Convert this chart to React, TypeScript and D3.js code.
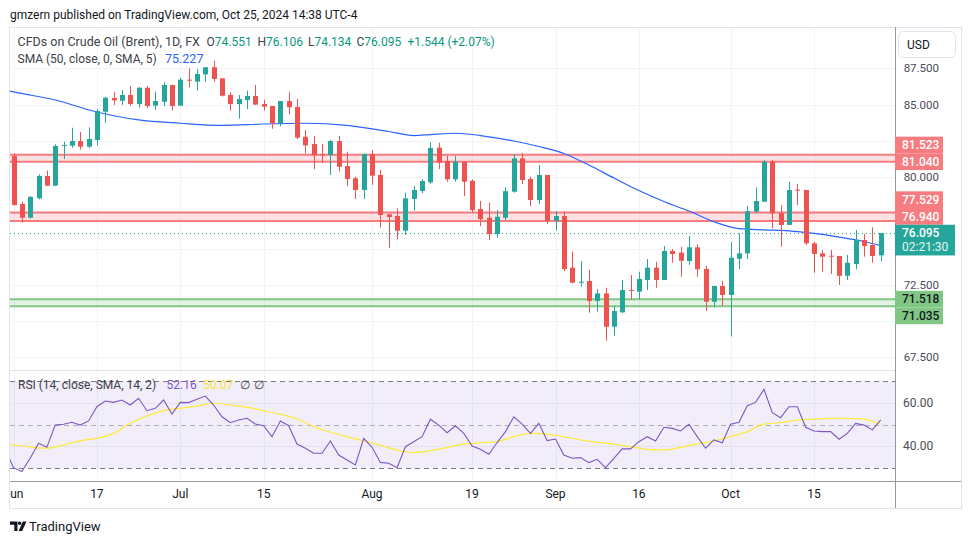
import React from "react";
import * as d3 from "d3";

// ---------- DATA ----------
const headerText = "gmzern published on TradingView.com, Oct 25, 2024 14:38 UTC-4";
const symbolTitle = "CFDs on Crude Oil (Brent), 1D, FX";
const smaTitle = "SMA (50, close, 0, SMA, 5)";
const rsiTitle = "RSI (14, close, SMA, 14, 2)";

// daily candles, Jun 3 2024 .. Oct 25 2024 (index 0..104)
const opens = [
  81.43, 78.11, 77.16, 78.5, 80.05, 79.38, 82.15, 82.15, 82.47, 82.08,
  82.54, 84.5, 85.45, 85.26, 85.66, 85.03, 86.16, 84.92, 85.19, 86.35,
  84.92, 86.72, 86.58, 87.09, 87.58, 86.81, 85.66, 85.03, 85.31, 85.59,
  85.03, 84.9, 83.7, 85.24, 84.83, 82.77, 82.26, 81.57, 81.5, 82.47,
  80.74, 79.89, 79.08, 81.57, 80.12, 77.4, 77.28, 76.26, 78.46, 79.01,
  79.61, 82.01, 81.09, 79.82, 81.04, 79.72, 77.76, 77.16, 76.03, 77.16,
  78.96, 81.27, 79.84, 78.39, 80.12, 76.95, 77.28, 73.7, 72.71, 72.78,
  71.39, 71.92, 69.61, 70.61, 72.16, 72.04, 72.85, 73.7, 72.85, 74.86,
  74.74, 74.16, 75.11, 73.61, 71.34, 72.43, 71.81, 74.32, 74.69, 77.58,
  78.27, 81.04, 77.47, 76.66, 79.1, 79.08, 75.39, 74.69, 74.53, 74.51,
  73.14, 73.95, 75.62, 75.27, 74.551,
];
const highs = [
  81.62, 78.27, 78.65, 80.17, 80.42, 82.24, 82.42, 83.39, 83.1, 83.42,
  84.67, 85.54, 85.85, 86.0, 86.28, 86.21, 86.28, 85.89, 86.54, 86.35,
  86.86, 87.5, 87.46, 87.6, 88.03, 86.85, 85.85, 85.66, 85.96, 86.35,
  85.33, 84.9, 85.24, 85.85, 85.38, 83.23, 82.82, 82.26, 82.54, 82.82,
  81.73, 80.0, 81.62, 81.85, 80.46, 77.4, 77.81, 78.89, 79.36, 79.84,
  82.38, 82.35, 81.45, 81.45, 81.04, 79.82, 78.32, 78.2, 77.69, 79.27,
  81.57, 81.66, 80.0, 80.81, 80.12, 77.62, 77.6, 74.81, 74.16, 73.54,
  72.22, 72.31, 71.05, 72.85, 73.19, 73.42, 74.3, 74.11, 75.2, 75.0,
  75.15, 75.89, 75.32, 73.82, 72.43, 72.78, 75.48, 76.08, 77.97, 79.27,
  81.16, 81.16, 78.04, 79.65, 79.49, 79.08, 75.5, 74.92, 74.92, 74.51,
  74.58, 76.31, 76.03, 76.5, 76.106,
];
const lows = [
  78.0, 76.81, 77.1, 78.43, 79.35, 79.35, 81.22, 82.0, 81.87, 81.99,
  82.15, 83.74, 84.97, 84.97, 84.92, 84.78, 84.74, 84.62, 84.9, 84.57,
  84.92, 86.19, 85.96, 86.58, 86.58, 85.55, 84.57, 84.02, 84.69, 84.99,
  84.57, 83.32, 83.49, 84.32, 82.61, 81.62, 80.53, 80.97, 80.12, 80.35,
  79.36, 78.46, 78.46, 79.43, 76.47, 75.08, 75.66, 75.96, 77.65, 78.85,
  79.49, 80.53, 79.65, 79.65, 78.66, 77.51, 76.59, 75.62, 75.78, 77.0,
  78.89, 79.49, 77.97, 78.11, 76.72, 76.26, 73.47, 72.62, 72.38, 70.58,
  70.65, 68.64, 68.99, 70.54, 71.51, 71.53, 72.15, 72.31, 72.85, 74.04,
  73.07, 73.9, 73.07, 70.72, 70.96, 71.05, 68.94, 73.61, 74.3, 77.47,
  78.27, 76.43, 75.15, 76.66, 78.04, 75.27, 73.35, 73.42, 73.26, 72.5,
  72.85, 73.59, 74.46, 74.04, 74.134,
];
const closes = [
  78.04, 77.16, 78.61, 80.05, 79.38, 82.13, 82.2, 82.47, 82.08, 82.61,
  84.55, 85.47, 85.29, 85.66, 85.03, 86.16, 84.9, 85.24, 86.35, 84.9,
  86.72, 86.68, 87.11, 87.58, 86.77, 85.61, 85.03, 85.38, 85.59, 84.99,
  84.85, 83.7, 85.24, 84.81, 82.7, 82.17, 81.5, 81.53, 82.47, 80.69,
  79.84, 79.08, 81.57, 80.07, 77.35, 77.21, 76.26, 78.5, 79.08, 79.7,
  81.99, 80.97, 79.82, 81.04, 79.65, 77.69, 77.07, 76.03, 77.23, 79.0,
  81.27, 79.77, 78.39, 80.12, 76.95, 77.28, 73.6, 72.66, 72.73, 71.39,
  71.92, 69.61, 70.7, 72.15, 72.13, 72.92, 73.7, 72.85, 74.86, 74.65,
  74.18, 75.11, 73.59, 71.34, 72.43, 71.81, 74.39, 74.69, 77.62, 78.32,
  81.04, 77.47, 76.66, 79.08, 79.08, 75.39, 74.65, 74.46, 74.51, 73.14,
  74.04, 75.62, 75.2, 74.51, 76.095,
];
// sessions drawn up-coloured although O≈C
const upDoji = [6, 68];

// SMA(50) line: candle index -> value
const smaIdx = [-1, 0, 5, 10, 15, 20, 25, 30, 35, 40, 45, 48, 50, 53, 56, 60, 63, 66, 69, 72, 75, 78, 81, 84, 87, 90, 93, 96, 99, 102, 104];
const smaVals = [86.0, 85.87, 85.31, 84.48, 83.93, 83.7, 83.55, 83.65, 83.7, 83.55, 83.13, 82.85, 82.92, 83.01, 82.85, 82.47, 82.09, 81.61, 80.81, 79.91, 79.04, 78.28, 77.62, 76.88, 76.41, 76.32, 76.25, 76.07, 75.82, 75.51, 75.227];

// RSI(14), index -1 .. 104
const rsiVals = [
  38.7,
  30.3, 28.5, 34.6, 41.5, 39.6, 49.8, 50.2, 51.1, 49.8, 51.7,
  58.2, 60.8, 60.2, 61.3, 59.0, 62.1, 56.4, 57.5, 61.3, 54.9,
  60.2, 60.1, 61.6, 63.1, 59.0, 53.6, 50.9, 52.1, 52.9, 50.3,
  49.5, 44.5, 51.7, 49.5, 41.1, 39.2, 36.9, 36.9, 42.5, 36.1,
  33.8, 31.5, 43.7, 39.6, 32.7, 32.3, 30.3, 39.9, 42.2, 44.5,
  52.5, 49.8, 46.3, 49.5, 46.0, 40.2, 38.7, 36.4, 41.8, 46.8,
  53.6, 50.2, 46.0, 50.6, 42.7, 43.4, 36.1, 34.6, 34.9, 32.6,
  34.1, 30.3, 34.6, 38.9, 38.9, 42.2, 44.5, 42.5, 48.8, 48.3,
  47.1, 50.2, 44.5, 39.2, 43.0, 41.7, 50.2, 51.1, 58.7, 60.2,
  66.2, 55.5, 53.2, 58.2, 58.2, 48.8, 47.1, 46.8, 46.8, 43.3,
  46.0, 50.6, 49.8, 47.6, 52.16,
];
// RSI-based SMA(14)
const rsiSmaIdx = [-1, 0, 2, 4, 6, 8, 10, 12, 14, 16, 18, 20, 22, 24, 26, 28, 30, 32, 34, 36, 38, 40, 42, 44, 46, 48, 50, 52, 54, 56, 58, 60, 62, 64, 66, 68, 70, 72, 74, 76, 78, 80, 82, 84, 86, 88, 90, 92, 94, 96, 98, 100, 102, 104];
const rsiSmaVals = [40.9, 40.7, 39.8, 39.2, 40.7, 42.7, 43.7, 46.0, 50.6, 54.0, 56.4, 57.5, 58.5, 59.8, 59.0, 58.0, 56.4, 54.7, 52.6, 49.1, 46.5, 44.5, 42.5, 40.5, 38.4, 37.2, 38.1, 39.5, 41.1, 41.7, 42.2, 44.5, 46.0, 45.7, 44.5, 43.0, 41.9, 41.1, 39.9, 38.7, 38.4, 39.6, 41.1, 42.5, 44.5, 46.8, 50.2, 50.9, 52.1, 52.5, 52.9, 52.9, 52.5, 50.07];

const priceTicks = [67.5, 70, 72.5, 75, 77.5, 80, 82.5, 85, 87.5];
const rsiTicks = [40, 60];
const timeTickIdx = [0, 10, 20, 30, 43, 55, 65, 75, 86, 96];
const timeTickLabels = ["Jun", "17", "Jul", "15", "Aug", "19", "Sep", "16", "Oct", "15"];

// horizontal zones (upper, lower, kind)
const zoneUpper = [81.523, 77.529, 71.518];
const zoneLower = [81.04, 76.94, 71.035];
const zoneKind = ["res", "res", "sup"];

const lastClose = 76.095;
const countdown = "02:21:30";
const ohlcLabels = ["O", "H", "L", "C"];
const changeText = "+1.544 (+2.07%)";
const smaLast = "75.227";
const rsiLast = "52.16";
const rsiSmaLast = "50.07";

// ---------- STYLE ----------
const FONT = "Roboto, 'Noto Sans', sans-serif";
const UP = "#26a69a";
const DOWN = "#ef5350";
const GRID = "#f0f3fa";
const TEXT = "#131722";
const LEG = "#3d4049";

export default function App() {
  const plotL = 10, plotR = 895;
  const priceTop = 27, priceBottom = 370;
  const rsiTop = 371, rsiBottom = 481;
  const axisBottom = 508;

  const x = d3.scaleLinear().domain([0, 104]).range([13.5, 880.7]);
  const y = d3.scaleLinear().domain([67.5, 87.5]).range([357.2, 68.4]);
  const yr = d3.scaleLinear().domain([30, 70]).range([468.3, 381]);
  const fmt3 = d3.format(".3f");
  const fmt2 = d3.format(".2f");

  const smaLine = d3
    .line<number>()
    .x((_, i) => x(smaIdx[i]))
    .y((d) => y(d))
    .curve(d3.curveMonotoneX)(smaVals) as string;

  const rsiLine = d3
    .line<number>()
    .x((_, i) => x(i - 1))
    .y((d) => yr(d))(rsiVals) as string;

  const rsiSmaLine = d3
    .line<number>()
    .x((_, i) => x(rsiSmaIdx[i]))
    .y((d) => yr(d))
    .curve(d3.curveMonotoneX)(rsiSmaVals) as string;

  // price-scale label layout (avoid overlaps like TradingView does)
  const LH = 16.7;
  const lastY = y(lastClose);
  const lastTop = lastY - 8.35;
  const lastBot = lastTop + 30.7;
  type Lab = { v: number; yy: number; kind: string };
  const labs: Lab[] = [];
  zoneUpper.forEach((v, i) => labs.push({ v, yy: y(v), kind: zoneKind[i] }));
  zoneLower.forEach((v, i) => labs.push({ v, yy: y(v), kind: zoneKind[i] }));
  const above = labs.filter((l) => l.yy < lastY).sort((a, b) => b.yy - a.yy);
  const below = labs.filter((l) => l.yy >= lastY).sort((a, b) => a.yy - b.yy);
  let limit = lastTop;
  above.forEach((l) => {
    if (l.yy + LH / 2 > limit) l.yy = limit - LH / 2;
    limit = l.yy - LH / 2;
  });
  limit = lastBot;
  below.forEach((l) => {
    if (l.yy - LH / 2 < limit) l.yy = limit + LH / 2;
    limit = l.yy + LH / 2;
  });
  const boxes: [number, number][] = labs.map((l) => [l.yy - LH / 2, l.yy + LH / 2]);
  boxes.push([lastTop, lastBot]);
  const visibleTicks = priceTicks.filter((t) => {
    const ty = y(t);
    return !boxes.some(([a, b]) => ty > a - 2 && ty < b + 2);
  });

  const ohlcVals = [opens[104], highs[104], lows[104], closes[104]];
  const ohlcX = [206.5, 257.5, 308, 356.5];

  return (
    <svg
      width={970}
      height={545}
      style={{ position: "absolute", left: 0, top: 0, background: "#fff" }}
      fontFamily={FONT}
    >
      <defs>
        <clipPath id="pricePane">
          <rect x={plotL} y={priceTop} width={plotR - plotL} height={priceBottom - priceTop} />
        </clipPath>
        <clipPath id="rsiPane">
          <rect x={plotL} y={rsiTop} width={plotR - plotL} height={rsiBottom - rsiTop} />
        </clipPath>
        <clipPath id="timeAxis">
          <rect x={plotL} y={rsiBottom} width={plotR - plotL} height={axisBottom - rsiBottom} />
        </clipPath>
      </defs>
      <rect x={0} y={0} width={970} height={545} fill="#fff" />

      {/* header */}
      <text x={10} y={19} fontSize={12} fill={TEXT}>
        {headerText}
      </text>

      {/* frame */}
      <rect x={9.5} y={27.5} width={952} height={481} fill="none" stroke="#e0e3eb" />

      {/* vertical grid */}
      {timeTickIdx.map((t, i) => (
        <line key={"vg" + i} x1={Math.round(x(t)) + 0.5} x2={Math.round(x(t)) + 0.5} y1={priceTop} y2={rsiBottom} stroke={GRID} />
      ))}
      {/* horizontal grid price */}
      {priceTicks.map((t, i) => (
        <line key={"hg" + i} x1={plotL} x2={plotR} y1={Math.round(y(t)) + 0.5} y2={Math.round(y(t)) + 0.5} stroke={GRID} />
      ))}

      {/* zones */}
      <g clipPath="url(#pricePane)">
        {zoneUpper.map((u, i) => {
          const res = zoneKind[i] === "res";
          const col = res ? "#f77c80" : "#81c784";
          const fill = res ? "rgba(242,54,69,0.15)" : "rgba(76,175,80,0.15)";
          return (
            <g key={"z" + i}>
              <rect x={plotL} y={y(u)} width={plotR - plotL} height={y(zoneLower[i]) - y(u)} fill={fill} />
              <line x1={plotL} x2={plotR} y1={y(u)} y2={y(u)} stroke={col} strokeWidth={2} />
              <line x1={plotL} x2={plotR} y1={y(zoneLower[i])} y2={y(zoneLower[i])} stroke={col} strokeWidth={2} />
            </g>
          );
        })}

        {/* last price dotted line */}
        <line x1={plotL} x2={plotR} y1={Math.round(lastY) + 0.5} y2={Math.round(lastY) + 0.5} stroke={UP} strokeDasharray="1 3" strokeWidth={1.2} />

        {/* SMA */}
        <path d={smaLine} fill="none" stroke="#2962ff" strokeWidth={1.2} />

        {/* candles */}
        {opens.map((o, i) => {
          const c = closes[i];
          const up = c > o || (Math.abs(c - o) < 0.06 && upDoji.includes(i));
          const col = up ? UP : DOWN;
          const cx = Math.round(x(i));
          const top = y(Math.max(o, c));
          const bot = y(Math.min(o, c));
          return (
            <g key={"c" + i}>
              <line x1={cx + 0.5} x2={cx + 0.5} y1={y(highs[i])} y2={y(lows[i])} stroke={col} strokeWidth={1} />
              <rect x={cx - 2} y={top} width={5} height={Math.max(1, bot - top)} fill={col} />
            </g>
          );
        })}
      </g>

      {/* pane separator */}
      <line x1={plotL} x2={plotR} y1={priceBottom + 0.5} y2={priceBottom + 0.5} stroke="#e0e3eb" />

      {/* RSI pane */}
      <g clipPath="url(#rsiPane)">
        <rect x={plotL} y={yr(70)} width={plotR - plotL} height={yr(30) - yr(70)} fill="rgba(126,87,194,0.1)" />
        {rsiTicks.map((t, i) => (
          <line key={"rg" + i} x1={plotL} x2={plotR} y1={Math.round(yr(t)) + 0.5} y2={Math.round(yr(t)) + 0.5} stroke="#e6e1f2" />
        ))}
        {[70, 50, 30].map((t, i) => (
          <line
            key={"rb" + i}
            x1={plotL}
            x2={plotR}
            y1={Math.round(yr(t)) + 0.5}
            y2={Math.round(yr(t)) + 0.5}
            stroke="#787b86"
            strokeOpacity={t === 50 ? 0.55 : 1}
            strokeDasharray="5 4"
          />
        ))}
        <path d={rsiSmaLine} fill="none" stroke="#fdeb3b" strokeWidth={1.2} />
        <path d={rsiLine} fill="none" stroke="#7e57c2" strokeWidth={1.1} />
      </g>

      {/* time axis */}
      <line x1={plotL} x2={961} y1={rsiBottom + 0.5} y2={rsiBottom + 0.5} stroke="#9598a1" />
      <g clipPath="url(#timeAxis)">
        {timeTickIdx.map((t, i) => (
          <text key={"tl" + i} x={x(t)} y={498} fontSize={12} fill={TEXT} textAnchor="middle">
            {timeTickLabels[i]}
          </text>
        ))}
      </g>

      {/* right axis */}
      <line x1={plotR + 0.5} x2={plotR + 0.5} y1={priceTop} y2={axisBottom} stroke="#9598a1" />
      <rect x={898.5} y={31.5} width={57} height={26} rx={5} fill="#fff" stroke="#e0e3eb" />
      <text x={907} y={49} fontSize={12} fill={TEXT}>
        USD
      </text>
      {visibleTicks.map((t, i) => (
        <text key={"pt" + i} x={939} y={y(t) + 4} fontSize={11.5} fill="#4a4d57" textAnchor="end">
          {fmt3(t)}
        </text>
      ))}
      {rsiTicks.map((t, i) => (
        <text key={"rt" + i} x={903} y={yr(t) + 4} fontSize={12} fill="#4a4d57">
          {fmt2(t)}
        </text>
      ))}

      {/* price labels */}
      {labs.map((l, i) => {
        const res = l.kind === "res";
        return (
          <g key={"pl" + i}>
            <rect x={plotR} y={l.yy - LH / 2} width={48} height={LH} fill={res ? "#f77c80" : "#81c784"} />
            <text x={902} y={l.yy + 4.3} fontSize={12} fontWeight={500} fill={res ? "#fff" : TEXT}>
              {fmt3(l.v)}
            </text>
          </g>
        );
      })}
      <rect x={plotR} y={lastTop} width={60} height={30.7} fill={UP} />
      <text x={902} y={lastY + 4.3} fontSize={12} fontWeight={500} fill="#fff">
        {fmt3(lastClose)}
      </text>
      <text x={902} y={lastY + 18.3} fontSize={12} fill="#e6f5f3">
        {countdown}
      </text>

      {/* legends */}
      <text x={17.5} y={46} fontSize={12.5} fill={LEG}>
        {symbolTitle}
      </text>
      {ohlcLabels.map((lab, i) => (
        <text key={"ohlc" + i} x={ohlcX[i]} y={46} fontSize={12}>
          <tspan fill={LEG}>{lab}</tspan>
          <tspan fill="#089981">{fmt3(ohlcVals[i])}</tspan>
        </text>
      ))}
      <text x={407.5} y={46} fontSize={12} fill="#089981">
        {changeText}
      </text>
      <text x={17.5} y={63} fontSize={12} fill={LEG}>
        {smaTitle}
      </text>
      <text x={165} y={63} fontSize={12.5} fill="#2962ff">
        {smaLast}
      </text>

      <text x={18} y={389} fontSize={12} fill={LEG}>
        {rsiTitle}
      </text>
      <text x={166.5} y={389} fontSize={12} fill="#7e57c2">
        {rsiLast}
      </text>
      <text x={203} y={389} fontSize={12} fill="#f5e43a">
        {rsiSmaLast}
      </text>
      <text x={240} y={389} fontSize={12} fill={LEG}>
        ∅
      </text>
      <text x={254} y={389} fontSize={12} fill={LEG}>
        ∅
      </text>

      {/* TradingView logo */}
      <g fill={TEXT}>
        <path d="M10 521.5 h7.5 v9.5 h-3.2 v-6.3 h-4.3 z" />
        <circle cx={19.6} cy={523.2} r={1.7} />
        <path d="M22.8 521.5 h3.6 l-4.2 9.5 h-3.6 z" />
      </g>
      <text x={29} y={531} fontSize={13} fill={TEXT}>
        TradingView
      </text>
    </svg>
  );
}
